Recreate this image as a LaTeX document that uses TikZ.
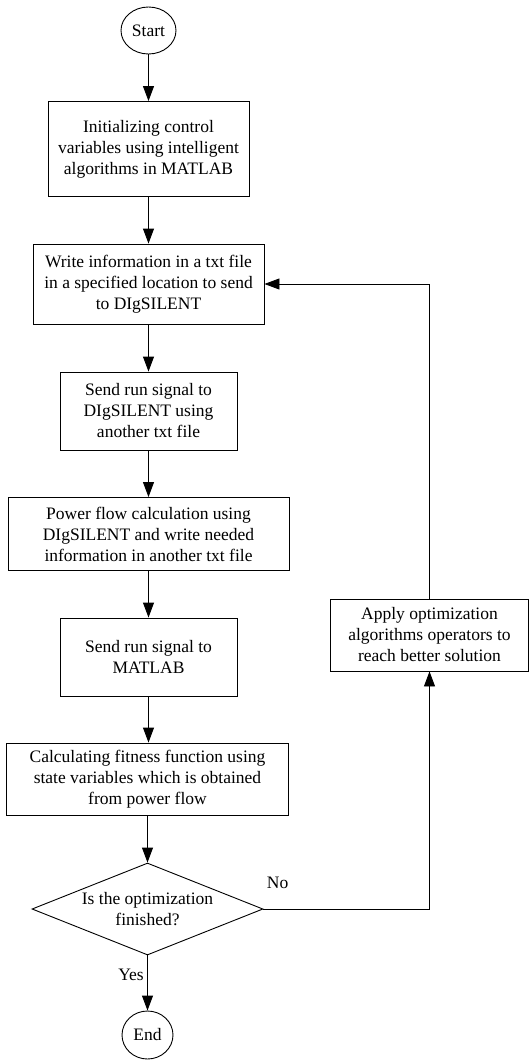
\documentclass[tikz,border=0pt]{standalone}
\usepackage{fontspec}
\setmainfont{Liberation Serif}
\usetikzlibrary{positioning,shapes.geometric,arrows.meta}
\tikzset{
	box/.style={rectangle,draw,line width=0.9pt,align=center,inner sep=0pt},
	term/.style={ellipse,draw,line width=0.9pt,inner sep=0pt},
	ask/.style={diamond,draw,line width=0.9pt,align=center,inner sep=0pt,aspect=2.5},
	arr/.style={line width=0.9pt,-{Triangle[length=15pt,width=11pt]}}
}

\begin{document}
\begin{tikzpicture}[x=1pt,y=1pt,font=\fontsize{17.5}{21}\selectfont]
		\useasboundingbox (0,0) rectangle (529,-1060);
		
		\node[term,minimum width=55pt,minimum height=47pt] (S) at (148.5,-30.5) {Start};
		
		\node[box,minimum width=201pt,minimum height=95pt] (A) at (148.5,-149) {Initializing control\\variables using intelligent\\algorithms in MATLAB};
		
		\node[box,minimum width=231pt,minimum height=80pt] (B) at (148.5,-284) {Write information in a txt file\\in a specified location to send\\to DIgSILENT};
		
		\node[box,minimum width=177pt,minimum height=78pt] (C) at (148.5,-411) {Send run signal to\\DIgSILENT using\\another txt file};
		
		\node[box,minimum width=281pt,minimum height=73pt] (D) at (148.5,-534) {Power flow calculation using\\DIgSILENT and write needed\\information in another txt file};
		
		\node[box,minimum width=177pt,minimum height=78pt] (E) at (148.5,-657) {Send run signal to\\MATLAB};
		
		\node[box,minimum width=282pt,minimum height=72pt] (F) at (147.5,-779) {Calculating fitness function using\\state variables which is obtained\\from power flow};
		
		\node[ask,minimum width=231pt,minimum height=92pt] (Q) at (147.5,-909) {Is the optimization\\finished?};
		
		\node[box,minimum width=198pt,minimum height=72pt] (O) at (429.5,-635) {Apply optimization\\algorithms operators to\\reach better solution};
		
		\node[term,minimum width=51pt,minimum height=48pt] (N) at (147.5,-1035) {End};
		
		\draw[arr] (S) -- (A);
		\draw[arr] (A) -- (B);
		\draw[arr] (B) -- (C);
		\draw[arr] (C) -- (D);
		\draw[arr] (D) -- (E);
		\draw[arr] (E.south) -- (E.south |- F.north);
		\draw[arr] (F) -- (Q);
		\draw[arr] (Q) -- node[left,pos=0.35]{Yes} (N);
		\draw[arr] (Q.east) -- node[anchor=base west,pos=0,inner sep=0pt,xshift=3pt,yshift=21pt]{No} (Q.east -| O.south) -- (O.south);
		\draw[arr] (O.north) -- (O.north |- B.east) -- (B.east);
		\end{tikzpicture}
\end{document}
